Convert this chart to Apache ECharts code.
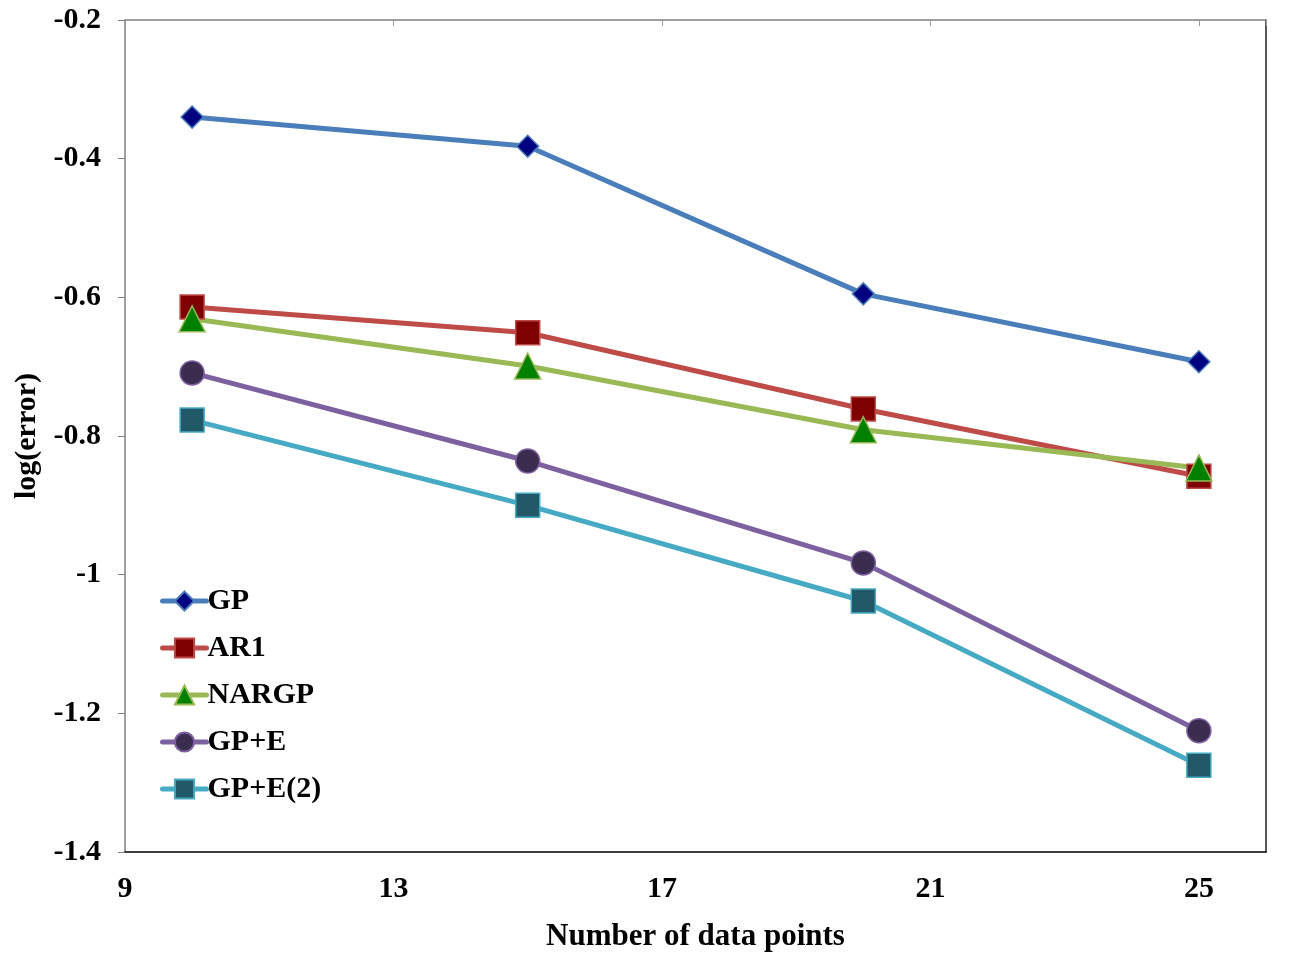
<!DOCTYPE html>
<html>
<head>
<meta charset="utf-8">
<script src="https://cdn.jsdelivr.net/npm/echarts@6/dist/echarts.min.js"></script>
<style>
  html, body { margin: 0; padding: 0; background: #fff; }
  #chart { width: 1299px; height: 963px; }
</style>
</head>
<body>
<div id="chart"></div>
<script>
// data
const xPoints = [10, 15, 20, 25];
const gpValues = [-0.340, -0.382, -0.595, -0.693];
const ar1Values = [-0.614, -0.651, -0.761, -0.858];
const nargpValues = [-0.631, -0.699, -0.791, -0.846];
const gpeValues = [-0.709, -0.836, -0.983, -1.225];
const gpe2Values = [-0.777, -0.900, -1.038, -1.275];
const seriesNames = ['GP', 'AR1', 'NARGP', 'GP+E', 'GP+E(2)'];

const font = '"Liberation Serif", "Times New Roman", serif';

function pairs(values) {
  return xPoints.map((x, i) => [x, values[i]]);
}

function makeSeries(name, values, lineColor, markColor, symbol, size) {
  return {
    name,
    type: 'line',
    data: pairs(values),
    symbol,
    symbolSize: size,
    showAllSymbol: true,
    lineStyle: { color: lineColor, width: 5 },
    itemStyle: { color: markColor, borderColor: lineColor, borderWidth: 1.5 },
    emphasis: { disabled: true },
    z: 2
  };
}

const chart = echarts.init(document.getElementById('chart'));
chart.setOption({
  animation: false,
  backgroundColor: '#fff',
  grid: { left: 125, right: 33, top: 20, bottom: 111 },
  legend: {
    orient: 'vertical',
    left: 155,
    top: 581,
    itemWidth: 44,
    itemHeight: 24,
    itemGap: 17,
    data: seriesNames,
    lineStyle: { width: 5, cap: 'round' },
    textStyle: { fontFamily: font, fontWeight: 'bold', fontSize: 30, color: '#000', padding: [12, 0, 0, -4] }
  },
  xAxis: [{
    type: 'value',
    min: 9,
    max: 26,
    interval: 4,
    position: 'bottom',
    name: 'Number of data points',
    nameLocation: 'middle',
    nameGap: 69,
    nameTextStyle: { fontFamily: font, fontWeight: 'bold', fontSize: 31, color: '#000' },
    axisLine: { show: true, lineStyle: { color: '#000', width: 1.5 } },
    axisTick: { show: false },
    axisLabel: { showMaxLabel: false, margin: 22, fontFamily: font, fontWeight: 'bold', fontSize: 30, color: '#000' },
    splitLine: { show: false }
  }, {
    type: 'value',
    min: 9,
    max: 26,
    interval: 4,
    position: 'top',
    axisLine: { show: true, lineStyle: { color: '#808080', width: 1.5 } },
    axisTick: { show: true, inside: true, length: 6, lineStyle: { color: '#999' } },
    axisLabel: { show: false },
    splitLine: { show: false }
  }],
  yAxis: [{
    type: 'value',
    min: -1.4,
    max: -0.2,
    interval: 0.2,
    position: 'left',
    name: 'log(error)',
    nameLocation: 'middle',
    nameGap: 68,
    nameRotate: 90,
    nameTextStyle: { fontFamily: font, fontWeight: 'bold', fontSize: 30, color: '#000' },
    axisLine: { show: true, lineStyle: { color: '#808080', width: 1.5 } },
    axisTick: { show: true, length: 7, lineStyle: { color: '#808080' } },
    axisLabel: {
      margin: 24, fontFamily: font, fontWeight: 'bold', fontSize: 30, color: '#000',
      formatter: v => String(Math.round(v * 10) / 10)
    },
    splitLine: { show: false }
  }, {
    type: 'value',
    min: -1.4,
    max: -0.2,
    interval: 0.2,
    position: 'right',
    axisLine: { show: true, lineStyle: { color: '#222', width: 1.5 } },
    axisTick: { show: false },
    axisLabel: { show: false },
    splitLine: { show: false }
  }],
  series: [
    makeSeries('GP', gpValues, '#4a7ebb', '#000080', 'diamond', 22),
    makeSeries('AR1', ar1Values, '#be4b48', '#7f0000', 'rect', 24),
    makeSeries('NARGP', nargpValues, '#98b954', '#008000', 'triangle', 26),
    makeSeries('GP+E', gpeValues, '#7d60a0', '#3b2d4f', 'circle', 24),
    makeSeries('GP+E(2)', gpe2Values, '#46aac5', '#215968', 'rect', 24)
  ]
});
</script>
</body>
</html>
